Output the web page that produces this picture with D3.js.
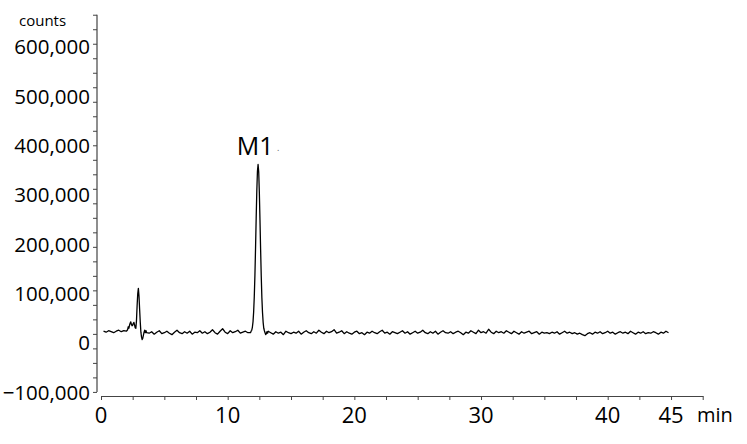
<!DOCTYPE html>
<html><head><meta charset="utf-8">
<script src="https://cdn.jsdelivr.net/npm/d3@7"></script>
<style>
html,body{margin:0;padding:0;background:#fff;}
svg{display:block;font-family:"Open Sans",sans-serif;}
</style></head>
<body>
<svg id="c" width="747" height="444"></svg>
<script>
// ---- data (time in min, counts in thousands) ----
const timesA  = [0.2,0.4,0.6,0.8,1.0,1.2,1.4,1.6,1.8,2.0];
const countsA = [24,22,25,23,21,24,26,23,25,24];

const timesB  = [2.1,2.15,2.2,2.25,2.3,2.35,2.4,2.45,2.5,2.55,2.6,2.65,2.7,2.75,2.8,2.85,2.9,2.95,3.0,3.05,3.1,3.15,3.2,3.25,3.3,3.35,3.4,3.45,3.5,3.55,3.6];
const countsB = [27,33,30,36,40,43,38,35,36,40,42,37,31,30,45,75,100,111,95,68,42,22,12,7,10,16,22,26,21,25,21];

const timesC  = [3.8,4.0,4.2,4.4,4.6,4.8,5.0,5.2,5.4,5.6,5.8,6.0,6.2,6.4,6.6,6.8,7.0,7.2,7.4,7.6,7.8,8.0,8.2,8.4,8.6,8.8,9.0,9.2,9.4,9.6,9.8,10.0,10.2,10.4,10.6,10.8,11.0,11.2,11.4,11.6];
const countsC = [20,23,18,22,25,19,21,24,20,17,22,26,21,19,23,20,24,18,22,21,25,20,23,19,22,27,21,18,24,29,22,19,25,21,23,26,20,22,24,21];

const timesD  = [11.8,11.85,11.9,11.95,12.0,12.05,12.1,12.15,12.2,12.25,12.3,12.35,12.4,12.45,12.5,12.55,12.6,12.65,12.7,12.75,12.8,12.85,12.9,12.95,13.0,13.05,13.1,13.15,13.2];
const countsD = [21,24,26,32,43,63,94,137,192,253,308,348,362,347,305,250,190,136,92,62,42,30,25,21,17,19,23,20,24];

const timesE  = [13.4,13.6,13.8,14.0,14.2,14.4,14.6,14.8,15.0,15.2,
                 15.4,15.6,15.8,16.0,16.2,16.4,16.6,16.8,17.0,17.2,
                 17.4,17.6,17.8,18.0,18.2,18.4,18.6,18.8,19.0,19.2,
                 19.4,19.6,19.8,20.0,20.2,20.4,20.6,20.8,21.0,21.2,
                 21.4,21.6,21.8,22.0,22.2,22.4,22.6,22.8,23.0,23.2,
                 23.4,23.6,23.8,24.0,24.2,24.4,24.6,24.8,25.0,25.2,
                 25.4,25.6,25.8,26.0,26.2,26.4,26.6,26.8,27.0,27.2,
                 27.4,27.6,27.8,28.0,28.2,28.4,28.6,28.8,29.0,29.2,
                 29.4,29.6,29.8,30.0,30.2,30.4,30.6,30.8,31.0,31.2,
                 31.4,31.6,31.8,32.0,32.2,32.4,32.6,32.8,33.0,33.2,
                 33.4,33.6,33.8,34.0,34.2,34.4,34.6,34.8,35.0,35.2,
                 35.4,35.6,35.8,36.0,36.2,36.4,36.6,36.8,37.0,37.2,
                 37.4,37.6,37.8,38.0,38.2,38.4,38.6,38.8,39.0,39.2,
                 39.4,39.6,39.8,40.0,40.2,40.4,40.6,40.8,41.0,41.2,
                 41.4,41.6,41.8,42.0,42.2,42.4,42.6,42.8,43.0,43.2,
                 43.4,43.6,43.8,44.0,44.2,44.4,44.6,44.8];
const countsE = [21,18,23,20,22,17,24,21,19,22,
                 20,24,18,22,25,21,19,23,20,26,
                 22,19,24,21,23,27,20,22,25,19,
                 23,20,18,22,24,19,21,17,22,20,
                 24,21,19,23,26,20,22,18,23,21,
                 19,22,25,20,23,18,21,24,20,22,
                 26,21,19,23,20,24,18,22,25,21,
                 20,23,19,22,24,21,17,22,20,25,
                 22,19,26,21,23,20,28,22,19,24,
                 21,23,20,25,22,19,24,21,18,23,
                 20,22,24,19,21,23,18,22,20,21,
                 19,22,20,23,18,21,24,20,22,19,
                 21,18,20,17,15,19,21,18,22,20,
                 23,19,21,24,20,22,18,21,23,20,
                 22,19,24,21,18,22,20,23,19,21,
                 20,23,21,18,22,20,24,21];

const yTickLabels = [-100000,0,100000,200000,300000,400000,500000,600000];
const xTickLabels = [0,10,20,30,40,45];
const xMinorTicks = [0,2.5,5,7.5,10,12.5,15,17.5,20,22.5,25,27.5,30,32.5,35,37.5,40,42.5,45,47.5];
const yAxisTitle = "counts";
const xAxisTitle = "min";
const peakLabel = "M1";
const peakTime = 12.4;

// ---- build series ----
const times = [].concat(timesA,timesB,timesC,timesD,timesE);
const counts = [].concat(countsA,countsB,countsC,countsD,countsE);
const series = times.map((t,i)=>({t, v: counts[i]*1000}));

const svg = d3.select("#c");
const x = d3.scaleLinear().domain([0,47.5]).range([101,702.7]);
const y = d3.scaleLinear().domain([-100000,600000]).range([392.4,47]);

// y axis minor ticks
const yMinor = d3.range(-99000, 670000, 29400);
const axisColor = "#444";
const gy = svg.append("g").attr("transform","translate(97,0)")
  .call(d3.axisLeft(y).tickValues(yMinor).tickSize(4).tickFormat(""));
gy.select(".domain").remove();
gy.selectAll("line").attr("stroke",axisColor);
gy.append("line").attr("x1",0).attr("x2",0)
  .attr("y1",y(yMinor[0])).attr("y2",y(yMinor[yMinor.length-1]))
  .attr("stroke",axisColor).attr("stroke-width",1.2);

svg.append("g").selectAll("text").data(yTickLabels).join("text")
  .attr("x",90).attr("y",d=>y(d)).attr("dy","0.36em")
  .attr("text-anchor","end").attr("font-size",20.5).attr("fill","#000")
  .text(d=>d3.format(",")(d));

svg.append("text").attr("x",19).attr("y",26).attr("font-size",15).attr("fill","#000").text(yAxisTitle);

// x axis
const gx = svg.append("g").attr("transform","translate(0,396)")
  .call(d3.axisBottom(x).tickValues(xMinorTicks).tickSize(4).tickSizeOuter(0).tickFormat(""));
gx.select(".domain").attr("stroke",axisColor).attr("stroke-width",1.2);
gx.selectAll("line").attr("stroke",axisColor);

svg.append("g").selectAll("text").data(xTickLabels).join("text")
  .attr("x",d=>x(d)).attr("y",415).attr("dy","0.36em")
  .attr("text-anchor","middle").attr("font-size",22).attr("fill","#000")
  .text(d=>d);

svg.append("text").attr("x",697).attr("y",415).attr("dy","0.36em")
  .attr("font-size",20).attr("fill","#000").text(xAxisTitle);

// line
svg.append("path").datum(series)
  .attr("fill","none").attr("stroke","#000").attr("stroke-width",1.3)
  .attr("stroke-linejoin","round")
  .attr("d", d3.line().x(d=>x(d.t)).y(d=>y(d.v)));

// peak label
svg.append("text").attr("x",x(peakTime)-3).attr("y",155)
  .attr("text-anchor","middle").attr("font-size",25).attr("fill","#000")
  .text(peakLabel);
svg.append("text").attr("x",x(peakTime)+19).attr("y",151).attr("font-size",9).attr("fill","#666").text(".");
</script>
</body></html>
